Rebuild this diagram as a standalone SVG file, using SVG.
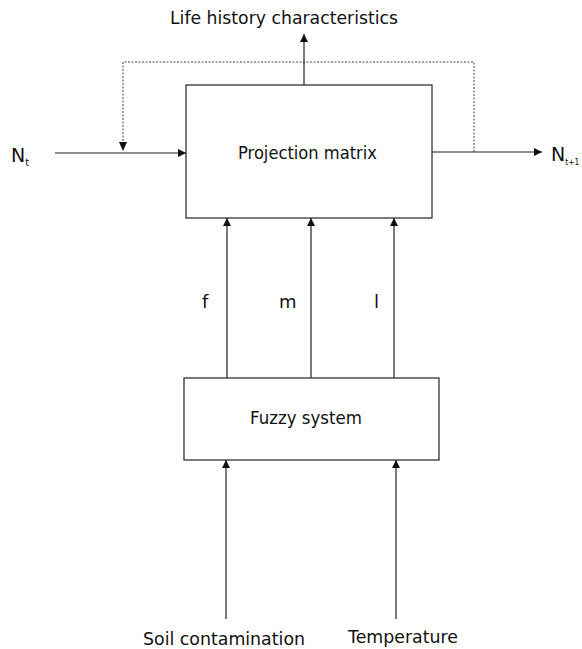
<svg xmlns="http://www.w3.org/2000/svg" width="582" height="649" viewBox="0 0 582 649">
<style>
.box{fill:#fff;stroke:#222;stroke-width:1.2}
.ln{stroke:#222;stroke-width:1.2;fill:none}
.dot{stroke:#444;stroke-width:1;stroke-dasharray:2,1.5;fill:none}
text{font-family:"DejaVu Sans","Liberation Sans",sans-serif;fill:#111}
</style>
<defs>
<marker id="ah" viewBox="0 0 10 10" refX="10" refY="5" markerWidth="9" markerHeight="8" markerUnits="userSpaceOnUse" orient="auto">
<path d="M0,0 L10,5 L0,10 z" fill="#111"/>
</marker>
</defs>
<g id="connectors">
<line class="ln" x1="304" y1="85" x2="304" y2="34" marker-end="url(#ah)"/>
<line class="ln" x1="55" y1="153" x2="186" y2="153" marker-end="url(#ah)"/>
<line class="ln" x1="432" y1="152" x2="542" y2="152" marker-end="url(#ah)"/>
<polyline class="dot" points="474,152 474,62 123,62 123,150"/>
<path d="M119,142 L127,142 L123,151 z" fill="#111"/>
<line class="ln" x1="227" y1="378" x2="227" y2="218" marker-end="url(#ah)"/>
<line class="ln" x1="311" y1="378" x2="311" y2="218" marker-end="url(#ah)"/>
<line class="ln" x1="394" y1="378" x2="394" y2="218" marker-end="url(#ah)"/>
<line class="ln" x1="226" y1="619" x2="226" y2="460" marker-end="url(#ah)"/>
<line class="ln" x1="396" y1="619" x2="396" y2="460" marker-end="url(#ah)"/>
</g>
<g id="projection">
<rect class="box" x="186" y="85" width="246" height="133"/>
<text x="238" y="159" font-size="17" textLength="139" lengthAdjust="spacingAndGlyphs">Projection matrix</text>
</g>
<g id="fuzzy">
<rect class="box" x="184" y="378" width="255" height="82"/>
<text x="250" y="424" font-size="17" textLength="112" lengthAdjust="spacingAndGlyphs">Fuzzy system</text>
</g>
<g id="life">
<text x="170" y="24" font-size="17" textLength="228" lengthAdjust="spacingAndGlyphs">Life history  characteristics</text>
</g>
<g id="nt">
<text x="11" y="162" font-size="19">N<tspan font-size="10" dy="4">t</tspan></text>
</g>
<g id="nt1">
<text x="551" y="161" font-size="19">N<tspan font-size="9" dy="4" textLength="14" lengthAdjust="spacingAndGlyphs">t+1</tspan></text>
</g>
<g id="labels">
<text x="202" y="308" font-size="18">f</text>
<text x="279" y="308" font-size="18">m</text>
<text x="374" y="308" font-size="18">l</text>
</g>
<g id="soil">
<text x="143" y="645" font-size="17" textLength="162" lengthAdjust="spacingAndGlyphs">Soil contamination</text>
</g>
<g id="temp">
<text x="348" y="643" font-size="17" textLength="110" lengthAdjust="spacingAndGlyphs">Temperature</text>
</g>
</svg>
